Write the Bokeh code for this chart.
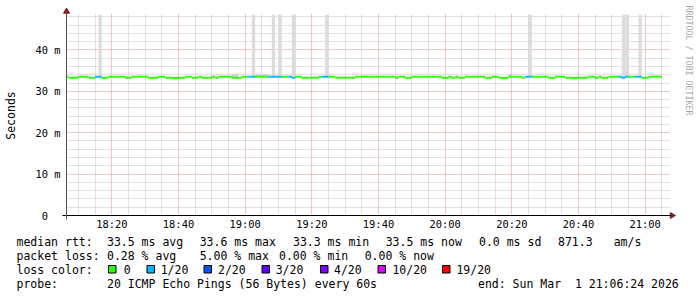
import math
from bokeh.plotting import figure
from bokeh.models import Range1d, FixedTicker, ColumnDataSource
from bokeh.core.properties import value
from bokeh.embed import file_html
from bokeh.resources import INLINE

# ---------------- data (minutes after 18:00, ms) ----------------
view_start = 6.4            # 18:06:24
view_minutes = 180          # 3 hours, ends 21:06:24
first_minute = 6            # first 60 s step interval starts 18:06

median_ms = [
    33.5, 33.3, 33.3, 33.3, 33.5, 33.5, 33.5, 33.3, 33.3, 33.5,
    33.5, 33.3, 33.3, 33.5, 33.5, 33.5, 33.5, 33.5, 33.3, 33.3,
    33.5, 33.5, 33.5, 33.5, 33.5, 33.3, 33.3, 33.3, 33.5, 33.5,
    33.3, 33.3, 33.3, 33.3, 33.3, 33.3, 33.5, 33.5, 33.3, 33.3,
    33.5, 33.3, 33.3, 33.3, 33.5, 33.3, 33.5, 33.5, 33.5, 33.5,
    33.3, 33.3, 33.3, 33.5, 33.5, 33.5, 33.5, 33.5, 33.5, 33.5,
    33.5, 33.5, 33.5, 33.5, 33.5, 33.5, 33.5, 33.5, 33.3, 33.5,
    33.5, 33.3, 33.3, 33.3, 33.3, 33.3, 33.5, 33.5, 33.5, 33.5,
    33.5, 33.3, 33.3, 33.3, 33.3, 33.3, 33.3, 33.5, 33.5, 33.5,
    33.5, 33.5, 33.5, 33.5, 33.5, 33.5, 33.5, 33.5, 33.5, 33.3,
    33.5, 33.5, 33.3, 33.3, 33.5, 33.5, 33.5, 33.5, 33.5, 33.5,
    33.5, 33.5, 33.5, 33.3, 33.3, 33.5, 33.3, 33.5, 33.3, 33.3,
    33.5, 33.5, 33.5, 33.5, 33.5, 33.5, 33.3, 33.3, 33.5, 33.5,
    33.3, 33.3, 33.3, 33.5, 33.5, 33.5, 33.5, 33.3, 33.5, 33.5,
    33.5, 33.5, 33.5, 33.5, 33.5, 33.3, 33.3, 33.5, 33.5, 33.5,
    33.3, 33.3, 33.3, 33.3, 33.3, 33.3, 33.3, 33.5, 33.5, 33.3,
    33.5, 33.3, 33.3, 33.5, 33.5, 33.5, 33.5, 33.3, 33.5, 33.5,
    33.5, 33.5, 33.5, 33.3, 33.3, 33.5, 33.5, 33.5, 33.5,
]

loss_minutes = [16, 62, 68, 70, 74, 84, 145, 173, 174, 178]
loss_of_20 = [1, 1, 1, 1, 1, 1, 1, 1, 1, 1]

# high outlier pings (clipped at the top of the graph, 48.5 ms)
spike_minutes = [16, 62, 68, 70, 74, 84, 145, 173, 174, 178]
spike_top_ms = [48.5, 48.5, 48.5, 48.5, 48.5, 48.5, 48.5, 48.5, 48.5, 48.5]

smoke_minutes = [56, 57, 63, 64, 65, 66, 139]
smoke_top_ms = [34.1, 34.1, 34.1, 34.1, 34.1, 34.1, 34.1]

x_tick_pos = [20, 40, 60, 80, 100, 120, 140, 160, 180]
x_tick_labels = ["18:20", "18:40", "19:00", "19:20", "19:40",
                 "20:00", "20:20", "20:40", "21:00"]
y_tick_pos = [0, 10, 20, 30, 40]
y_tick_labels = ["0\u00a0\u00a0", "10 m", "20 m", "30 m", "40 m"]
y_top_ms = 48.55

loss_names = ["0", "1/20", "2/20", "3/20", "4/20", "10/20", "19/20"]
loss_colors = ["#26ff00", "#00b8ff", "#0059ff", "#5e00ff", "#7e00ff",
               "#dd00ff", "#ff0000"]

row1 = ["median rtt:", "33.5 ms avg", "33.6 ms max", "33.3 ms min",
        "33.5 ms now", "0.0 ms sd", "871.3", "am/s"]
row2 = ["packet loss:", "0.28 % avg", "5.00 % max", "0.00 % min", "0.00 % now"]
row4 = ["probe:", "20 ICMP Echo Pings (56 Bytes) every 60s",
        "end: Sun Mar\u00a0\u00a01 21:06:24 2026"]
credit = "RRDTOOL / TOBI OETIKER"

# ---------------- layout ----------------
W, H = 697, 297
GL, GR, GB = 66, 669, 215      # graph area in page pixels
PXM = 600.0 / view_minutes     # px per minute
PYM = 4.14                     # px per ms

def fx(px):
    return view_start + (px - GL) / PXM

def fy(py):
    return (GB - py) / PYM

FONT = "DejaVu Sans Mono"

p = figure(width=W, height=H, output_backend="svg", toolbar_location=None,
           x_range=Range1d(fx(0), fx(W)), y_range=Range1d(fy(H), fy(0)),
           min_border=0)
p.outline_line_color = None
p.background_fill_color = "white"
p.border_fill_color = "white"

# axes drawn at the data origin
xa, ya = p.xaxis[0], p.yaxis[0]
xa.fixed_location = 0
xa.bounds = (fx(62), fx(671))
ya.fixed_location = view_start
ya.bounds = (fy(219), fy(11))
xa.ticker = FixedTicker(ticks=x_tick_pos,
                        minor_ticks=[m for m in range(10, 190, 5) if m % 20])
ya.ticker = FixedTicker(ticks=y_tick_pos,
                        minor_ticks=[v for v in range(2, 50, 2) if v % 10])
xa.major_label_overrides = dict(zip(x_tick_pos, x_tick_labels))
ya.major_label_overrides = dict(zip(y_tick_pos, y_tick_labels))
for ax in (xa, ya):
    ax.major_tick_out = 0
    ax.major_tick_in = 0
    ax.minor_tick_out = 0
    ax.minor_tick_in = 0
    ax.major_label_text_font = FONT
    ax.major_label_text_font_size = "10.4px"
    ax.major_label_text_color = "#000000"
xa.major_label_standoff = 2
ya.major_label_standoff = 6
xa.axis_line_color = "#000000"
ya.axis_line_color = "#555555"
ya.axis_label = "Seconds"
ya.axis_label_text_font = FONT
ya.axis_label_text_font_size = "11.5px"
ya.axis_label_text_font_style = "normal"
ya.axis_label_text_color = "#000000"
ya.axis_label_standoff = 14

# grids limited to the graph area
xg, yg = p.xgrid[0], p.ygrid[0]
xg.bounds = (view_start, fx(GR))
xg.cross_bounds = (0, y_top_ms)
yg.bounds = (0, y_top_ms)
yg.cross_bounds = (view_start, fx(GR))
for g in (xg, yg):
    g.grid_line_color = "#df9292"
    g.grid_line_dash = "1 1"
    g.grid_line_width = 1
    g.minor_grid_line_color = "#c2c2c2"
    g.minor_grid_line_dash = "1 1"
    g.minor_grid_line_width = 1

# ---------------- smoke ----------------
def med_at(m):
    return median_ms[m - first_minute]

spike_src = ColumnDataSource(dict(
    left=[max(m, view_start) for m in spike_minutes],
    right=[m + 1 for m in spike_minutes],
    bottom=[med_at(m) for m in spike_minutes],
    top=spike_top_ms))
p.quad(left="left", right="right", bottom="bottom", top="top", source=spike_src,
       fill_color="#dcdcdc", line_color=None)

smoke_src = ColumnDataSource(dict(
    left=list(smoke_minutes),
    right=[m + 1 for m in smoke_minutes],
    bottom=[med_at(m) for m in smoke_minutes],
    top=smoke_top_ms))
p.quad(left="left", right="right", bottom="bottom", top="top", source=smoke_src,
       fill_color="#cfcfcf", line_color=None)

# ---------------- median line coloured by loss ----------------
loss_by_min = dict(zip(loss_minutes, loss_of_20))
x0s, x1s, ys, cols = [], [], [], []
for i, v in enumerate(median_ms):
    m = first_minute + i
    lv = max(loss_by_min.get(m, 0), loss_by_min.get(m + 1, 0))
    x0s.append(max(m, view_start))
    x1s.append(m + 1)
    ys.append(v)
    cols.append(loss_colors[min(lv, len(loss_colors) - 1)])
seg_src = ColumnDataSource(dict(x0=x0s, x1=x1s, y=ys, c=cols))
p.segment(x0="x0", y0="y", x1="x1", y1="y", source=seg_src,
          line_color="c", line_width=2, line_cap="butt")

# ---------------- axis arrow heads ----------------
ARROW = "#801f1f"
p.scatter(x=[view_start], y=[fy(11)], marker="triangle", size=6,
          fill_color=ARROW, line_color=ARROW)
p.scatter(x=[fx(671.5)], y=[0], marker="triangle", size=6, angle=-math.pi / 2,
          fill_color=ARROW, line_color=ARROW)

# ---------------- legend ----------------
tx, ty, tt = [], [], []
def add(px, py, text):
    tx.append(fx(px)); ty.append(fy(py)); tt.append(text)

ROWS = [241.3, 255.3, 269.3, 283.3]
r1x = [16, 106.5, 199.2, 292.5, 385.2, 478.5, 557.5, 613.2]
for x, t in zip(r1x, row1):
    add(x, ROWS[0], t)
r2x = [16, 106.5, 199.2, 278.5, 364.2]
for x, t in zip(r2x, row2):
    add(x, ROWS[1], t)
add(16, ROWS[2], "loss color:")
box_x = [108, 146.5, 203.5, 261.5, 320, 377.5, 442]
txt_x = [123.2, 160.2, 217.5, 275.2, 333.5, 391.9, 455.9]
for x, t in zip(txt_x, loss_names):
    add(x, ROWS[2], t)
r4x = [16, 106.5, 477.5]
for x, t in zip(r4x, row4):
    add(x, ROWS[3], t)

p.text(x=tx, y=ty, text=tt, text_font=value(FONT),
       text_font_size=value("11.5px"), text_color="#000000",
       text_align="left", text_baseline="alphabetic")

box_src = ColumnDataSource(dict(
    left=[fx(b) for b in box_x], right=[fx(b + 7.5) for b in box_x],
    top=[fy(265)] * len(box_x), bottom=[fy(272.5)] * len(box_x),
    c=loss_colors))
p.quad(left="left", right="right", top="top", bottom="bottom", source=box_src,
       fill_color="c", line_color="#000000", line_width=1)

p.text(x=[fx(688.5)], y=[fy(5)], text=[credit], angle=-math.pi / 2,
       text_font=value(FONT), text_font_size=value("8.3px"),
       text_color="#a8a8a8", text_align="left", text_baseline="middle")

open("out.html", "w").write(file_html(p, INLINE))
